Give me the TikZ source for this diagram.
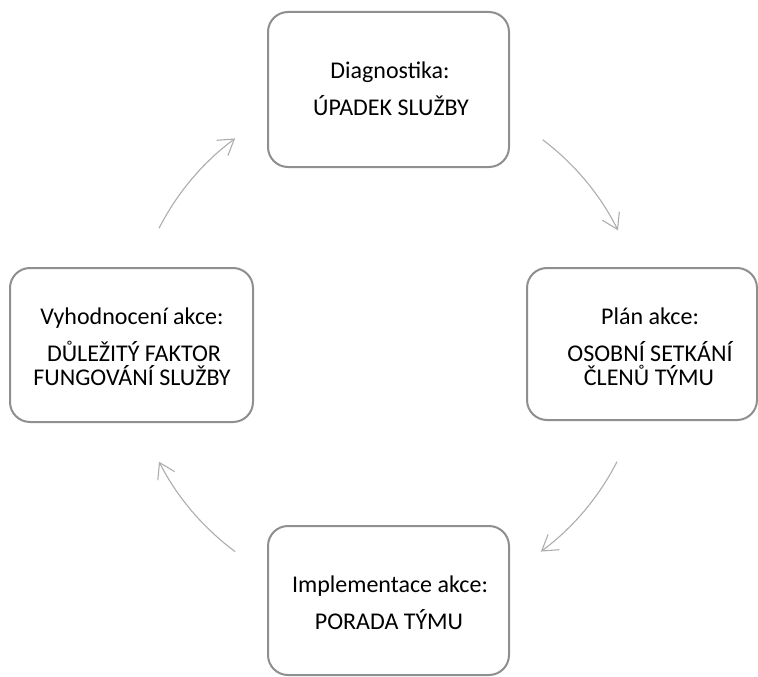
\documentclass[tikz,border=0pt]{standalone}
\usepackage{fontspec}
\setmainfont{Carlito}
\usetikzlibrary{arrows.meta,calc}
\definecolor{boxgray}{HTML}{8F8F8F}
\definecolor{arrgray}{HTML}{ADADAD}
\begin{document}
\begin{tikzpicture}[x=1pt,y=-1pt,
  cyclebox/.style={draw=boxgray, line width=2pt, rounded corners=20pt, fill=white, inner sep=0pt},
  lbl/.style={anchor=base, inner sep=0pt, font=\fontsize{24}{24}\selectfont},
  cyclearrow/.style={draw=arrgray, line width=1.1pt, -{Straight Barb[length=15pt,width=19pt]}}
]
\useasboundingbox (0,0) rectangle (758,677);
\coordinate (C) at (388,345);

% boxes
\node[cyclebox, minimum width=241pt, minimum height=155pt] (diag) at (388.5,89.5) {};
\node[cyclebox, minimum width=230pt, minimum height=152pt] (plan) at (642,344) {};
\node[cyclebox, minimum width=241pt, minimum height=149pt] (impl) at (388.5,600.5) {};
\node[cyclebox, minimum width=243pt, minimum height=154pt] (eval) at (131.5,345) {};

% texts
\node[lbl] (diag1) at (390,78.5) {Diagnostika:};
\node[lbl] (diag2) at (391,115) {ÚPADEK SLUŽBY};

\node[lbl] (plan1) at (650,324) {Plán akce:};
\node[lbl] (plan2) at (650,361) {OSOBNÍ SETKÁNÍ};
\node[lbl] (plan3) at (649,385) {ČLENŮ TÝMU};

\node[lbl] (impl1) at (390,592) {Implementace akce:};
\node[lbl] (impl2) at (389,629) {PORADA TÝMU};

\node[lbl] (eval1) at (132,324) {Vyhodnocení akce:};
\node[lbl] (eval2) at (134,361) {DŮLEŽITÝ FAKTOR};
\node[lbl] (eval3) at (132,385) {FUNGOVÁNÍ SLUŽBY};

% arrow start points on the cycle circle
\coordinate (a1) at ($(C)+(-53:257)$);
\coordinate (a2) at ($(C)+(27:257)$);
\coordinate (a3) at ($(C)+(126.5:257)$);
\coordinate (a4) at ($(C)+(-153:257)$);

\draw[cyclearrow] (a1) arc[start angle=-53, end angle=-26.5, radius=257];
\draw[cyclearrow] (a2) arc[start angle=27, end angle=53.5, radius=257];
\draw[cyclearrow] (a3) arc[start angle=126.5, end angle=153, radius=257];
\draw[cyclearrow] (a4) arc[start angle=-153, end angle=-126.5, radius=257];
\end{tikzpicture}
\end{document}
